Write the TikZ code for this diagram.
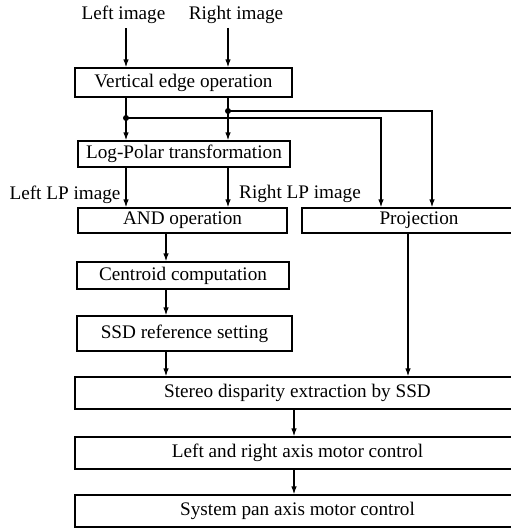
\documentclass[tikz,border=0pt]{standalone}
\usepackage{fontspec}
\setmainfont{Liberation Serif}
\usetikzlibrary{arrows.meta}

\begin{document}
\begin{tikzpicture}[x=1pt,y=-1pt,
  every node/.style={font=\fontsize{19.2}{22}\selectfont, inner sep=0pt},
  box/.style={draw, line width=1.2pt, minimum width=#1},
  lbl/.style={},
  link/.style={line width=1.3pt},
  arr/.style={link, -{Latex[length=8pt,width=5.5pt]}},
  junction/.style={circle, fill, minimum size=6pt, inner sep=0pt}]

\path[use as bounding box] (0,0) rectangle (511,528);
\clip (0,0) rectangle (511,528);

% column positions of the vertical connectors
\coordinate (xl) at (126,0);
\coordinate (xr) at (228,0);
\coordinate (xp1) at (381,0);
\coordinate (xp2) at (432,0);
\coordinate (xc) at (166,0);
\coordinate (xq) at (408,0);
\coordinate (xm) at (294,0);

% input labels
\node[lbl] (li) at (123.5,15) {Left image};
\node[lbl] (ri) at (236,15) {Right image};

% processing blocks (the wide ones run past the right margin)
\node[box=217, minimum height=29] (veo) at (183.5,82.5) {Vertical edge operation};
\node[box=212, minimum height=26] (lp) at (184,154) {Log-Polar transformation};
\node[box=209, minimum height=25] (and) at (182.5,220.5) {AND operation};
\node[box=234, minimum height=25] (proj) at (419,220.5) {Projection};
\node[box=212, minimum height=27] (cen) at (183,275.5) {Centroid computation};
\node[box=215, minimum height=35] (ssd) at (184.5,333.5) {SSD reference setting};
\node[box=445, minimum height=32] (st) at (297.5,393) {Stereo disparity extraction by SSD};
\node[box=445, minimum height=32] (lr) at (297.5,453) {Left and right axis motor control};
\node[box=445, minimum height=32] (sp) at (297.5,511) {System pan axis motor control};

% intermediate labels
\node[lbl] (llp) at (65,195) {Left LP image};
\node[lbl] (rlp) at (300,194) {Right LP image};

% branch points below the edge operation
\node[junction] (dl) at (126,118) {};
\node[junction] (dr) at (228,111) {};

% connectors
\draw[arr] ([yshift=-4]li.south -| xl) -- (veo.north -| xl);
\draw[arr] ([yshift=-4]ri.south -| xr) -- (veo.north -| xr);
\draw[arr] (veo.south -| xl) -- (lp.north -| xl);
\draw[arr] (veo.south -| xr) -- (lp.north -| xr);
\draw[arr] (dl.center) -| (proj.north -| xp1);
\draw[arr] (dr.center) -| (proj.north -| xp2);
\draw[arr] (lp.south -| xl) -- (and.north -| xl);
\draw[arr] (lp.south -| xr) -- (and.north -| xr);
\draw[arr] (and.south -| xc) -- (cen.north -| xc);
\draw[arr] (cen.south -| xc) -- (ssd.north -| xc);
\draw[arr] (ssd.south -| xc) -- (st.north -| xc);
\draw[arr] (proj.south -| xq) -- (st.north -| xq);
\draw[arr] (st.south -| xm) -- (lr.north -| xm);
\draw[arr] (lr.south -| xm) -- (sp.north -| xm);
\end{tikzpicture}
\end{document}
